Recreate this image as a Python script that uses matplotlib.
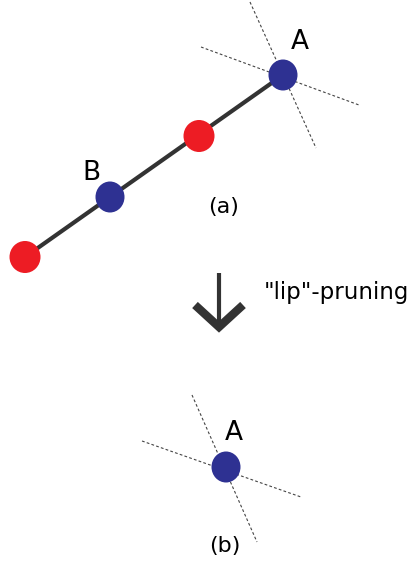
import matplotlib.pyplot as plt
from matplotlib.patches import Ellipse

# pixel-space layout of the sketch (y grows downward)
chain_x = [25, 110, 199, 283]
chain_y = [257, 197, 136, 75]
chain_colors = ['#ED1C24', '#2E3192', '#ED1C24', '#2E3192']
chain_w = [31, 29, 31, 29]
chain_h = [32, 31, 32, 31]

# dotted "lip" directions through A (top) and A (bottom)
dash_top = [((250, 2), (316, 148)), ((201, 47), (359, 105))]
dash_bot = [((192, 395), (257, 542)), ((142, 441), (301, 497))]
a_bottom = (226, 467)

labels = [('A', 300, 42, 19), ('B', 91, 173, 19), ('(a)', 224, 207, 16),
          ('A', 234, 433, 19), ('(b)', 225, 546, 16)]

blue = '#2E3192'
dark = '#333333'

fig = plt.figure(figsize=(4.11, 5.62), dpi=100)
ax = fig.add_axes([0, 0, 1, 1])
ax.set_xlim(0, 411)
ax.set_ylim(562, 0)
ax.axis('off')

for (p, q) in dash_top + dash_bot:
    ax.plot([p[0], q[0]], [p[1], q[1]], color='#444444', lw=0.8,
            linestyle=(0, (2.5, 2)), zorder=1)

ax.plot([chain_x[0], chain_x[-1]], [chain_y[0], chain_y[-1]],
        color=dark, lw=3, solid_capstyle='butt', zorder=2)

for x, y, c, w, h in zip(chain_x, chain_y, chain_colors, chain_w, chain_h):
    ax.add_patch(Ellipse((x, y), w, h, facecolor=c, edgecolor='none', zorder=3))

ax.add_patch(Ellipse(a_bottom, 29, 31, facecolor=blue, edgecolor='none', zorder=3))

for txt, x, y, fs in labels:
    ax.text(x, y, txt, ha='center', va='center', fontsize=fs, color='black')

# arrow for the pruning step
ax.plot([219, 219], [273, 322], color=dark, lw=3, solid_capstyle='butt', zorder=2)
ax.plot([195, 219, 243], [305, 327, 305], color=dark, lw=6,
        solid_joinstyle='miter', solid_capstyle='butt', zorder=2)
ax.text(264, 292, '"lip"-pruning', ha='left', va='center', fontsize=16.5, color='black')

plt.savefig('out.png', dpi=100)
